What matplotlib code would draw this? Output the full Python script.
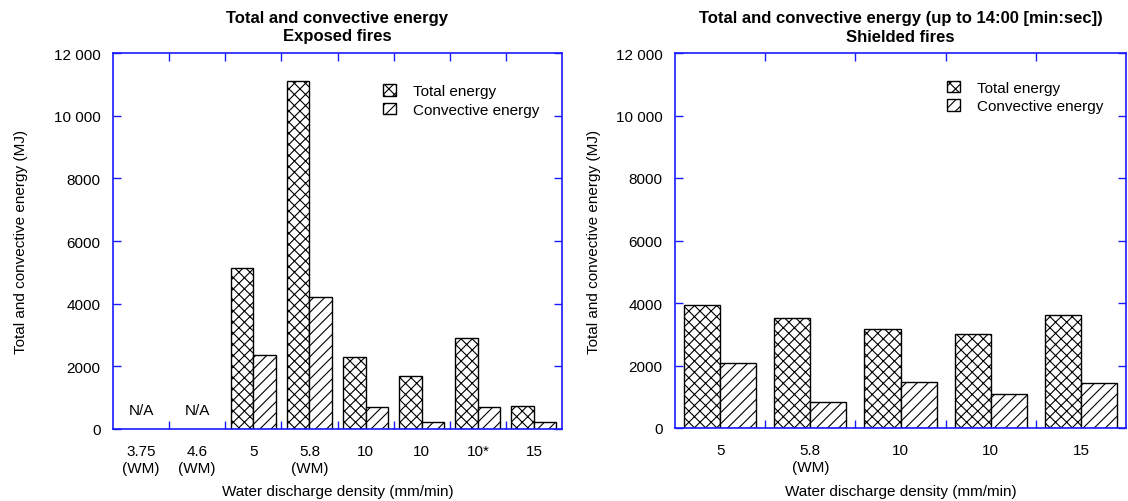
import numpy as np
import matplotlib
matplotlib.use("Agg")
import matplotlib.pyplot as plt
from matplotlib.ticker import FixedLocator

plt.rcParams['font.family'] = ['Liberation Sans', 'DejaVu Sans']
plt.rcParams['hatch.linewidth'] = 0.8

# ---- data ----
exp_labels = ["3.75\n(WM)", "4.6\n(WM)", "5", "5.8\n(WM)", "10", "10", "10*", "15"]
exp_total = [np.nan, np.nan, 5150, 11100, 2300, 1690, 2890, 740]
exp_conv = [np.nan, np.nan, 2370, 4200, 700, 210, 700, 210]
exp_na = [0, 1]

sh_labels = ["5", "5.8\n(WM)", "10", "10", "15"]
sh_total = [3950, 3520, 3170, 3020, 3610]
sh_conv = [2070, 820, 1480, 1080, 1450]

yticks = [0, 2000, 4000, 6000, 8000, 10000, 12000]
ytick_labels = ["0", "2000", "4000", "6000", "8000", "10 000", "12 000"]

BLUE = '#1a1aff'
W = 0.4
FS = 11

fig = plt.figure(figsize=(11.28, 5.02), dpi=100)
ax1 = fig.add_axes([113/1128, 1-430/502, 449/1128, 376/502])
ax2 = fig.add_axes([675/1128, 1-429/502, 451/1128, 375/502])


def draw(ax, labels, total, conv, title, leg_anchor, ylab_x, xlab_y):
    n = len(labels)
    x = np.arange(n)
    t = np.array(total, dtype=float)
    c = np.array(conv, dtype=float)
    m = ~np.isnan(t)
    ax.bar(x[m] - W/2, t[m], W, facecolor='white', edgecolor='black',
           linewidth=1.0, hatch='xxx', label='Total energy')
    ax.bar(x[m] + W/2, c[m], W, facecolor='white', edgecolor='black',
           linewidth=1.0, hatch='///', label='Convective energy')
    ax.set_xlim(-0.5, n - 0.5)
    ax.set_ylim(0, 12000)
    ax.set_yticks(yticks)
    ax.set_yticklabels(ytick_labels)
    ax.set_xticks(x)
    ax.set_xticklabels(labels, linespacing=1.25)
    ax.xaxis.set_minor_locator(FixedLocator(np.arange(n - 1) + 0.5))
    ax.tick_params(axis='x', which='major', length=0, pad=11, labelsize=FS)
    ax.tick_params(axis='x', which='minor', direction='in', length=6,
                   width=1, color=BLUE, top=True, bottom=True)
    ax.tick_params(axis='y', which='major', direction='in', length=6,
                   width=1, color=BLUE, left=True, right=True, labelsize=FS, pad=9)
    for s in ax.spines.values():
        s.set_color(BLUE)
        s.set_linewidth(1.2)
    ax.set_title(title, fontsize=12, fontweight='bold', pad=9, linespacing=1.3)
    ax.set_xlabel("Water discharge density (mm/min)", fontsize=FS)
    ax.set_ylabel("Total and convective energy (MJ)", fontsize=FS)
    ax.yaxis.set_label_coords(ylab_x, 0.5)
    ax.xaxis.set_label_coords(0.5, xlab_y)
    ax.legend(loc='upper left', bbox_to_anchor=leg_anchor, frameon=False,
              fontsize=FS, handlelength=0.85, handleheight=0.8,
              handletextpad=1.1, labelspacing=0.28, borderpad=0.2,
              borderaxespad=0)


draw(ax1, exp_labels, exp_total, exp_conv,
     "Total and convective energy\nExposed fires", (0.595, 0.925), -0.189, -0.146)
for i in exp_na:
    ax1.text(i, 600, "N/A", ha='center', va='center', fontsize=FS)

draw(ax2, sh_labels, sh_total, sh_conv,
     "Total and convective energy (up to 14:00 [min:sec])\nShielded fires",
     (0.596, 0.934), -0.164, -0.149)

fig.savefig("out.png", dpi=100)
